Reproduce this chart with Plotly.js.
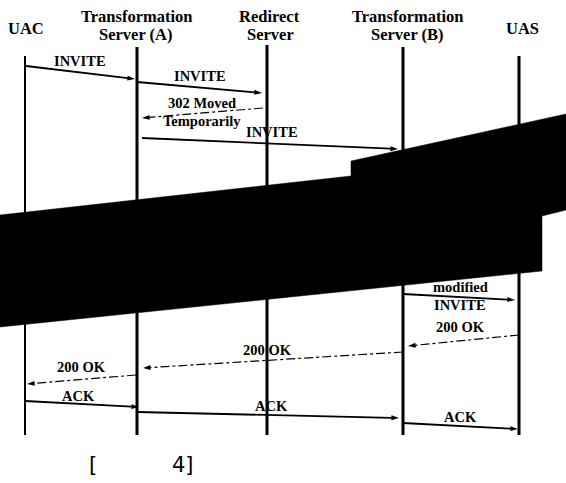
<!DOCTYPE html>
<html>
<head>
<meta charset="utf-8">
<script src="https://cdn.plot.ly/plotly-3.0.1.min.js"></script>
<style>html,body{margin:0;padding:0;background:#fff;}#chart{width:566px;height:483px;}</style>
</head>
<body>
<div id="chart"></div>
<script>
// Participants (header lines) and lifelines
const headerLines = ["UAC", "Transformation", "Server (A)", "Redirect", "Server", "Transformation", "Server (B)", "UAS"];
const headerX = [26, 137, 135, 269, 270, 408, 407, 522];
const headerY = [28, 16, 34, 16, 34, 16, 34, 28];

const lifelineX = [25, 137, 267, 403, 519];
const lifelineTop = [56, 47, 45, 47, 56];
const lifelineBottom = [435, 435, 435, 435, 435];
const lifelineWidth = [2, 3, 3, 3, 3];

// Messages (start/end points)
const msgX0 = [26, 137, 263, 142, 403, 519, 403, 136, 25, 137, 403];
const msgY0 = [66, 82, 108, 138, 294, 335, 352, 375, 401, 412, 423];
const msgX1 = [135, 262, 142, 398, 515, 408, 143, 27, 139, 399, 518];
const msgY1 = [79, 93, 118, 149, 300, 346, 368, 384, 407, 418, 429];
const msgDash = ["solid", "solid", "dashdot", "solid", "solid", "dashdot", "dashdot", "dashdot", "solid", "solid", "solid"];

// Message labels
const labelText = ["INVITE", "INVITE", "302 Moved", "Temporarily", "INVITE", "modified", "INVITE", "200 OK", "200 OK", "200 OK", "ACK", "ACK", "ACK"];
const labelX = [80, 200, 202, 202, 272, 460, 460, 460, 267, 81, 78, 271, 460];
const labelY = [61, 76, 103, 121, 132, 287, 305, 327, 350, 367, 396, 406, 417];

// Black occluding polygon
const polyX = [0, 351, 351, 566, 566, 542, 542, 0];
const polyY = [215, 176, 161, 114, 210, 216, 271, 327];

// Caption
const captionText = ["[", "4]"];
const captionX = [93, 183];
const captionY = [465, 465];

const traces = [];
for (let i = 0; i < lifelineX.length; i++) {
  traces.push({
    type: "scatter", mode: "lines",
    x: [lifelineX[i], lifelineX[i]], y: [lifelineTop[i], lifelineBottom[i]],
    line: {color: "#000", width: lifelineWidth[i]}, hoverinfo: "skip"
  });
}
for (let i = 0; i < msgX0.length; i++) {
  const dashed = msgDash[i] !== "solid";
  traces.push({
    type: "scatter", mode: "lines+markers",
    x: [msgX0[i], msgX1[i]], y: [msgY0[i], msgY1[i]],
    line: {color: "#000", width: dashed ? 1.2 : 1.8, dash: msgDash[i]},
    marker: {symbol: ["circle", "arrow"], size: [0, 8], opacity: [0, 1], angleref: "previous", color: "#000", line: {width: 0}},
    hoverinfo: "skip"
  });
}
traces.push({
  type: "scatter", mode: "lines", x: polyX, y: polyY, fill: "toself",
  fillcolor: "#000", line: {color: "#000", width: 0.5}, hoverinfo: "skip"
});

const annotations = [];
for (let i = 0; i < headerLines.length; i++) {
  annotations.push({x: headerX[i], y: headerY[i], xref: "x", yref: "y", text: "<b>" + headerLines[i] + "</b>", showarrow: false,
    font: {family: "Liberation Serif, Times New Roman, serif", size: 16.5, color: "#000"}});
}
for (let i = 0; i < labelText.length; i++) {
  annotations.push({x: labelX[i], y: labelY[i], xref: "x", yref: "y", text: "<b>" + labelText[i] + "</b>", showarrow: false,
    font: {family: "Liberation Serif, Times New Roman, serif", size: 14.5, color: "#000"}});
}
for (let i = 0; i < captionText.length; i++) {
  annotations.push({x: captionX[i], y: captionY[i], xref: "x", yref: "y", text: captionText[i], showarrow: false,
    font: {family: "DejaVu Sans, sans-serif", size: 21, color: "#000"}});
}

const layout = {
  width: 566, height: 483,
  margin: {l: 0, r: 0, t: 0, b: 0},
  paper_bgcolor: "#fff", plot_bgcolor: "#fff",
  showlegend: false,
  xaxis: {range: [0, 566], visible: false, fixedrange: true},
  yaxis: {range: [483, 0], visible: false, fixedrange: true},
  annotations: annotations
};
Plotly.newPlot("chart", traces, layout, {staticPlot: true, displayModeBar: false});
</script>
</body>
</html>
